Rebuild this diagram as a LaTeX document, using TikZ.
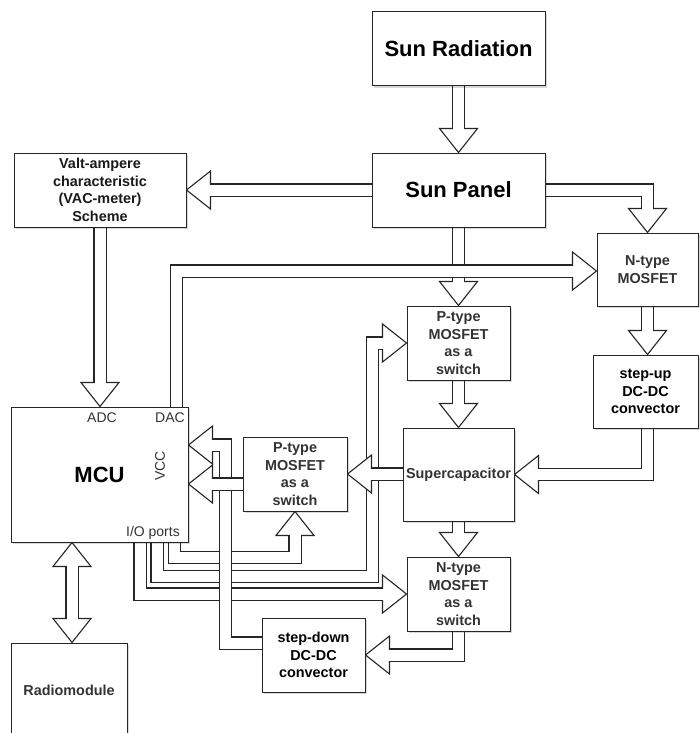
\documentclass[tikz,border=0pt]{standalone}
\usepackage{fontspec}
\setmainfont{Liberation Sans}
\usetikzlibrary{calc,shadows}
\definecolor{txtgray}{HTML}{333333}
\definecolor{txtdark}{HTML}{1a1a1a}
\pgfdeclarelayer{back}
\pgfdeclarelayer{bg}
\pgfsetlayers{back,bg,main}
\tikzset{
  box/.style={draw=black!85, line width=1pt, fill=white, inner sep=0pt, align=center,
    drop shadow={shadow xshift=2pt, shadow yshift=-2pt, opacity=0.15, fill=black}},
  bigtxt/.style={font=\fontsize{22}{26}\selectfont\bfseries},
  smalltxt/.style={font=\fontsize{14.4}{17.6}\selectfont\bfseries},
  lbl/.style={font=\fontsize{14}{16}\selectfont, text=txtgray, inner sep=0pt},
  shaftout/.style={draw=black!85, line width=13.2pt, line join=miter, line cap=butt},
  shaftin/.style={draw=white, line width=11pt, line join=miter, line cap=butt},
  arrhead/.style={draw=black!85, fill=white, line width=1.1pt, line join=miter},
}
\newcommand\farrow[3]{%
  \path ($(#3)!24pt!(#2)$) coordinate (fab);
  \draw[shaftout] #1 -- (fab);
  \draw[arrhead] (#3) -- ($(fab)!19pt!90:(#3)$) -- ($(fab)!19pt!-90:(#3)$) -- cycle;
  \draw[shaftin] #1 -- ($(fab)!1.6pt!(#3)$);
}
\newcommand\dfarrow[2]{%
  \path ($(#1)!24pt!(#2)$) coordinate (fa1) ($(#2)!24pt!(#1)$) coordinate (fa2);
  \draw[shaftout] (fa1) -- (fa2);
  \draw[arrhead] (#1) -- ($(fa1)!19pt!90:(#1)$) -- ($(fa1)!19pt!-90:(#1)$) -- cycle;
  \draw[arrhead] (#2) -- ($(fa2)!19pt!90:(#2)$) -- ($(fa2)!19pt!-90:(#2)$) -- cycle;
  \draw[shaftin] ($(fa1)!1.6pt!(#1)$) -- ($(fa2)!1.6pt!(#2)$);
}
\begin{document}
\begin{tikzpicture}[x=1pt, y=-1pt]
\useasboundingbox (0,0) rectangle (699,733);
\begin{pgfonlayer}{back}
  \fill[white] (0,0) rectangle (699,733);
\end{pgfonlayer}

% boxes
\node[box, bigtxt, minimum width=173pt, minimum height=74pt] (sunrad) at (458.5,49) {Sun Radiation};
\node[box, bigtxt, minimum width=173pt, minimum height=74pt] (sunpanel) at (458.5,190) {Sun Panel};
\node[box, smalltxt, text=txtdark, minimum width=172pt, minimum height=74pt] (vac) at (100,190) {Valt-ampere\\characteristic\\(VAC-meter)\\Scheme};
\node[box, smalltxt, text=txtgray, minimum width=101pt, minimum height=73pt] (ntop) at (647.5,269.5) {N-type\\MOSFET};
\node[box, smalltxt, minimum width=105pt, minimum height=73pt] (stepup) at (645.5,391.5) {step-up\\DC-DC\\convector};
\node[box, smalltxt, text=txtgray, minimum width=103pt, minimum height=74pt] (pup) at (458.5,343) {P-type\\MOSFET\\as a\\switch};
\node[box, smalltxt, text=txtgray, minimum width=111pt, minimum height=93pt] (supercap) at (458.5,474.5) {Supercapacitor};
\node[box, smalltxt, text=txtgray, minimum width=103pt, minimum height=74pt] (nlow) at (458.5,594) {N-type\\MOSFET\\as a\\switch};
\node[box, bigtxt, minimum width=177pt, minimum height=135pt] (mcu) at (99.5,474.5) {MCU};
\node[box, smalltxt, text=txtgray, minimum width=104pt, minimum height=74pt] (pleft) at (295,474) {P-type\\MOSFET\\as a\\switch};
\node[box, smalltxt, minimum width=103pt, minimum height=74pt] (stepdown) at (313.5,655) {step-down\\DC-DC\\convector};
\node[box, smalltxt, text=txtgray, minimum width=116pt, minimum height=94pt] (radio) at (69,690) {Radiomodule};

% port labels
\node[lbl] (adc) at (102,418) {ADC};
\node[lbl] (dac) at (170,418) {DAC};
\node[lbl, rotate=90] (vcc) at (160,466) {VCC};
\node[lbl, anchor=east] (io) at (180,533) {I/O ports};

% helper coordinates
\coordinate (adcin) at (vac.south |- mcu.north);
\coordinate (c4) at (sunpanel.east -| ntop.north);
\coordinate (dacout) at ($(mcu.north east)+(-12,0)$);
\coordinate (ntin) at ($(ntop.west)+(0,1.5)$);
\coordinate (c6) at (dacout |- ntin);
\coordinate (suin) at (ntop.south |- stepup.north);
\coordinate (suout) at (ntop.south |- stepup.south);
\coordinate (c8) at (ntop.south |- supercap.east);
\coordinate (c11) at (nlow.south |- stepdown.east);
\coordinate (io3) at ($(mcu.south east)+(-48.5,0)$);
\coordinate (c12) at (io3 |- nlow.west);
\coordinate (io2) at ($(mcu.south east)+(-31.5,0)$);
\coordinate (c13a) at ($(io2)+(0,34)$);
\coordinate (c13b) at ($(c13a -| pup.west)+(-34,0)$);
\coordinate (c13c) at (c13b |- pup.west);
\coordinate (io1) at ($(mcu.south east)+(-14,0)$);
\coordinate (c14a) at ($(io1)+(0,15)$);
\coordinate (c14b) at (c14a -| pleft.south);
\coordinate (rtop) at ($(radio.north)+(3,0)$);
\coordinate (rbot) at (rtop |- mcu.south);
\coordinate (sdout) at ($(stepdown.west)+(0,-12)$);
\coordinate (vcc1) at ($(mcu.east)+(0,-29.5)$);
\coordinate (c16a) at ($(vcc1)+(37,0)$);
\coordinate (c16b) at (c16a |- sdout);
\coordinate (vcc2) at ($(mcu.east)+(0,9.5)$);
\coordinate (plo) at (pleft.west |- vcc2);
\coordinate (scl) at (supercap.west |- pleft.east);

% block arrows
\begin{pgfonlayer}{bg}
\farrow{(sunrad.south)}{sunrad.south}{sunpanel.north}
\farrow{(sunpanel.west)}{sunpanel.west}{vac.east}
\farrow{(vac.south)}{vac.south}{adcin}
\farrow{(sunpanel.east) -- (c4)}{c4}{ntop.north}
\farrow{(sunpanel.south)}{sunpanel.south}{pup.north}
\farrow{(dacout) -- (c6)}{c6}{ntin}
\farrow{(ntop.south)}{ntop.south}{suin}
\farrow{(suout) -- (c8)}{c8}{supercap.east}
\farrow{(pup.south)}{pup.south}{supercap.north}
\farrow{(supercap.south)}{supercap.south}{nlow.north}
\farrow{(nlow.south) -- (c11)}{c11}{stepdown.east}
\farrow{(io3) -- (c12)}{c12}{nlow.west}
\farrow{(io2) -- (c13a) -- (c13b) -- (c13c)}{c13c}{pup.west}
\farrow{(io1) -- (c14a) -- (c14b)}{c14b}{pleft.south}
\dfarrow{rbot}{rtop}
\farrow{(sdout) -- (c16b) -- (c16a)}{c16a}{vcc1}
\farrow{(plo)}{plo}{vcc2}
\farrow{(scl)}{scl}{pleft.east}
\end{pgfonlayer}
\end{tikzpicture}
\end{document}
